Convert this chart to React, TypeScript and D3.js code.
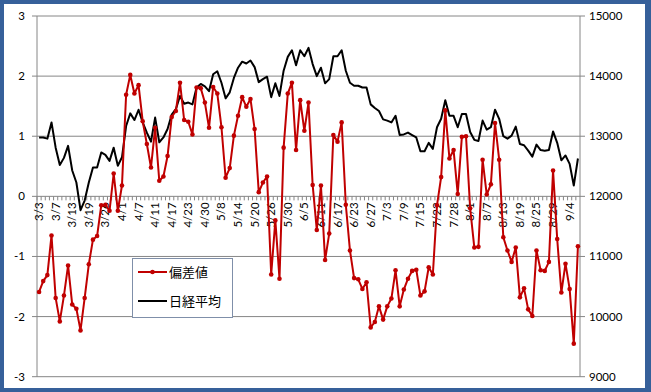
import React from "react";
import * as d3 from "d3";

const dates = [
  "3/3","3/4","3/5","3/6","3/7","3/10","3/11","3/12","3/13","3/14","3/17","3/18","3/19","3/21","3/24","3/25","3/26","3/27","3/28","3/31",
  "4/1","4/2","4/3","4/4","4/7","4/8","4/9","4/10","4/11","4/14","4/15","4/16","4/17","4/18","4/21","4/22","4/23","4/24","4/25","4/28","4/30",
  "5/1","5/2","5/7","5/8","5/9","5/12","5/13","5/14","5/15","5/16","5/19","5/20","5/21","5/22","5/23","5/26","5/27","5/28","5/29","5/30",
  "6/2","6/3","6/4","6/5","6/6","6/9","6/10","6/11","6/12","6/13","6/16","6/17","6/18","6/19","6/20","6/23","6/24","6/25","6/26","6/27","6/30",
  "7/1","7/2","7/3","7/4","7/7","7/8","7/9","7/10","7/11","7/14","7/15","7/16","7/17","7/18","7/22","7/23","7/24","7/25","7/28","7/29","7/30","7/31",
  "8/1","8/4","8/5","8/6","8/7","8/8","8/11","8/12","8/13","8/14","8/15","8/18","8/19","8/20","8/21","8/22","8/25","8/26","8/27","8/28","8/29",
  "9/1","9/2","9/3","9/4","9/5","9/8"
];

const deviation = [
  -1.59,-1.41,-1.31,-0.65,-1.69,-2.08,-1.65,-1.15,-1.80,-1.87,-2.23,-1.69,-1.13,-0.72,-0.66,-0.15,-0.14,-0.24,0.38,-0.24,
  0.18,1.69,2.02,1.71,1.85,1.25,0.87,0.48,1.14,0.26,0.33,0.67,1.32,1.42,1.89,1.27,1.24,1.03,1.81,1.80,1.56,
  1.14,1.82,1.71,1.15,0.31,0.47,1.01,1.34,1.65,1.49,1.62,1.12,0.07,0.23,0.33,-1.30,-0.40,-1.37,0.81,1.71,
  1.89,0.77,1.60,1.09,1.56,0.19,-0.56,0.18,-1.06,-0.62,1.02,0.91,1.23,-0.14,-0.90,-1.36,-1.38,-1.54,-1.43,-2.18,-2.09,
  -1.83,-2.05,-1.83,-1.70,-1.23,-1.83,-1.55,-1.37,-1.24,-1.22,-1.65,-1.58,-1.18,-1.30,-0.15,0.32,1.43,0.63,0.77,0.04,0.99,1.00,
  -0.20,-0.85,-0.84,0.61,0.03,0.20,1.22,0.61,-0.68,-0.90,-1.09,-0.85,-1.68,-1.53,-1.88,-1.99,-0.90,-1.23,-1.24,-1.09,0.43,
  -0.71,-1.60,-1.12,-1.54,-2.45,-0.83
];

const nikkei = [
  12980,12980,12960,13230,12810,12520,12640,12840,12430,12230,11770,11930,12230,12480,12480,12730,12690,12590,12810,12510,
  12650,13170,13380,13270,13440,13230,13060,12910,13310,12900,12980,13120,13360,13450,13670,13540,13560,13530,13810,13870,13830,
  13750,14030,14080,13890,13630,13730,13970,14140,14240,14210,14260,14150,13900,13950,13990,13650,13880,13670,14090,14320,
  14430,14180,14430,14330,14470,14200,14000,14140,13880,13950,14330,14330,14430,14090,13890,13840,13840,13810,13810,13530,13470,
  13420,13280,13260,13230,13340,13020,13030,13060,13020,12980,12750,12750,12890,12790,13150,13290,13600,13340,13340,13150,13370,13370,
  13070,12940,12920,13260,13110,13150,13440,13290,13000,12960,13010,13160,12870,12850,12760,12660,12860,12770,12760,12770,13080,
  12890,12600,12680,12540,12180,12630
];

const leftTicks = [-3, -2, -1, 0, 1, 2, 3];
const rightTicks = [9000, 10000, 11000, 12000, 13000, 14000, 15000];
const legendLabels = ["偏差値", "日経平均"];

const W = 651, H = 392;
const L = 37, R = 580, T = 16, B = 376.7;
const RED = "#c00000";
const GRID = "#868686";

export default function App() {
  const x = d3.scaleBand<string>().domain(dates).range([L, R]).paddingInner(0).paddingOuter(0);
  const bw = x.bandwidth();
  const cx = (d: string) => (x(d) as number) + bw / 2;
  const yL = d3.scaleLinear().domain([-3, 3]).range([B, T]);
  const yR = d3.scaleLinear().domain([9000, 15000]).range([B, T]);
  const y0 = yL(0);

  const redLine = d3.line<number>().x((_, i) => cx(dates[i])).y((v) => yL(v))(deviation) as string;
  const blackLine = d3.line<number>().x((_, i) => cx(dates[i])).y((v) => yR(v))(nikkei) as string;

  const font = "Lato, 'Open Sans', 'DejaVu Sans', sans-serif";
  const jfont = "'Noto Sans CJK JP', sans-serif";

  return (
    <svg width={W} height={H} style={{ position: "absolute", left: 0, top: 0 }} fontFamily={font}>
      <rect x={0} y={0} width={W} height={H} fill="#36609a" />
      <rect x={4} y={4} width={641} height={384} fill="#ffffff" />
      {leftTicks.map((t) => (
        <g key={"g" + t}>
          {t !== 0 && <line x1={L - 5} x2={R + 5} y1={yL(t)} y2={yL(t)} stroke={GRID} strokeWidth={1} />}
          <text x={25} y={yL(t) + 4} textAnchor="end" fontSize={11.5} fill="#000">{t}</text>
        </g>
      ))}
      {rightTicks.map((t) => (
        <text key={"r" + t} x={589} y={yR(t) + 4} textAnchor="start" fontSize={11.5} fill="#000">{t}</text>
      ))}
      <line x1={L} x2={L} y1={T} y2={B} stroke={GRID} strokeWidth={1} />
      <line x1={R} x2={R} y1={T} y2={B} stroke={GRID} strokeWidth={1} />
      <line x1={L - 5} x2={R + 5} y1={y0} y2={y0} stroke={GRID} strokeWidth={1} />
      {dates.map((d, i) => (
        <line key={"t" + i} x1={x(d) as number} x2={x(d) as number} y1={y0} y2={y0 + 4} stroke={GRID} strokeWidth={1} />
      ))}
      {dates.map((d, i) =>
        i % 4 === 0 ? (
          <text key={"l" + i} transform={`translate(${cx(d) + 4},${y0 + 6}) rotate(-90)`} textAnchor="end" fontSize={11.5} fill="#000">
            {d}
          </text>
        ) : null
      )}
      <path d={blackLine} fill="none" stroke="#000" strokeWidth={2} strokeLinejoin="round" />
      <path d={redLine} fill="none" stroke={RED} strokeWidth={2} strokeLinejoin="round" />
      {deviation.map((v, i) => (
        <circle key={"c" + i} cx={cx(dates[i])} cy={yL(v)} r={2.3} fill={RED} />
      ))}
      <g>
        <rect x={132.5} y={258.5} width={100} height={59} fill="#fff" stroke="#7f8fa9" strokeWidth={1} />
        <line x1={138} x2={167} y1={272} y2={272} stroke={RED} strokeWidth={2} />
        <circle cx={152.5} cy={272} r={2.3} fill={RED} />
        <text x={169} y={277} fontSize={13} fontFamily={jfont} fill="#000">{legendLabels[0]}</text>
        <line x1={138} x2={167} y1={301} y2={301} stroke="#000" strokeWidth={2} />
        <text x={169} y={306} fontSize={13} fontFamily={jfont} fill="#000">{legendLabels[1]}</text>
      </g>
    </svg>
  );
}
